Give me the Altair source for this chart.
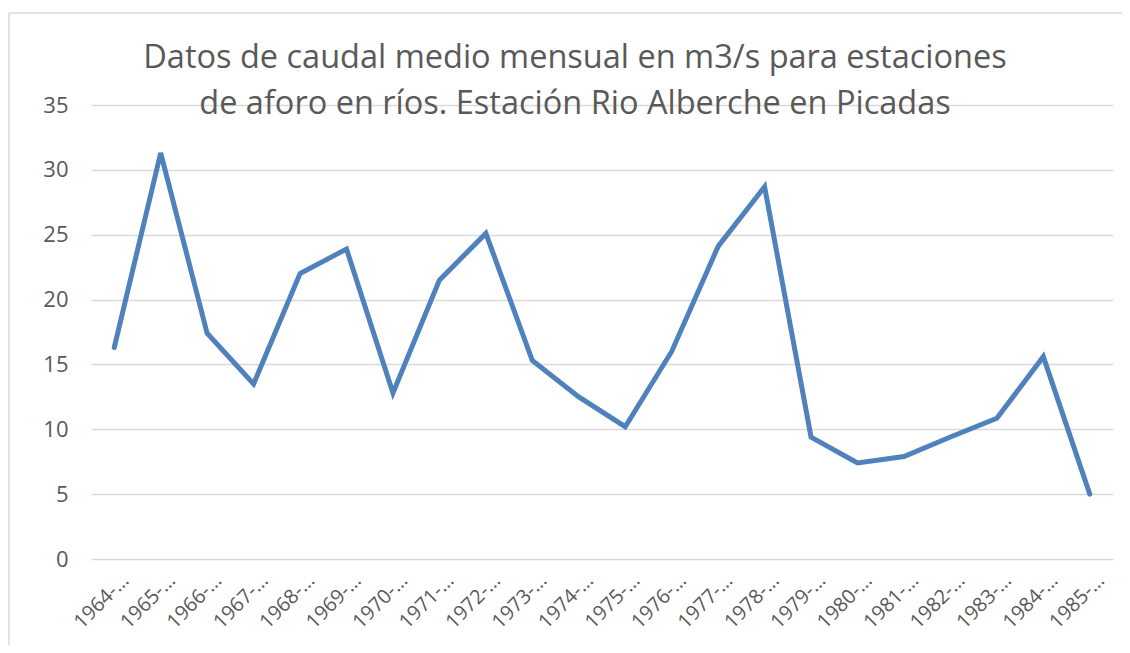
import altair as alt
import pandas as pd

years = ["1964-…", "1965-…", "1966-…", "1967-…", "1968-…", "1969-…", "1970-…",
         "1971-…", "1972-…", "1973-…", "1974-…", "1975-…", "1976-…", "1977-…",
         "1978-…", "1979-…", "1980-…", "1981-…", "1982-…", "1983-…", "1984-…",
         "1985-…"]
caudal = [16.3, 31.3, 17.4, 13.5, 22.0, 23.9, 12.8, 21.5, 25.1, 15.3, 12.5,
          10.2, 16.0, 24.1, 28.7, 9.4, 7.4, 7.9, 9.4, 10.85, 15.6, 5.0]
y_ticks = [0, 5, 10, 15, 20, 25, 30, 35]
title_lines = ["Datos de caudal medio mensual en m3/s para estaciones",
               "de aforo en ríos. Estación Rio Alberche en Picadas"]

df = pd.DataFrame({"anio": years, "caudal": caudal})

FONT = "Open Sans"
GREY = "#595959"

one = pd.DataFrame({"k": [0]})

border_left = alt.Chart(one).mark_rule(stroke="#d9d9d9", strokeWidth=1.5).encode(
    x=alt.value(-82), y=alt.value(-92), y2=alt.value(560)
)
border_top = alt.Chart(one).mark_rule(stroke="#d9d9d9", strokeWidth=1.5).encode(
    x=alt.value(-82), x2=alt.value(1031), y=alt.value(-92)
)

line = alt.Chart(df).mark_line(color="#4F81BD", strokeWidth=5, strokeCap="round").encode(
    x=alt.X("anio:N", sort=years, title=None,
            axis=alt.Axis(labelAngle=-45, labelAlign="center", labelBaseline="middle",
                          labelPadding=42, labelOffset=-13, grid=False)),
    y=alt.Y("caudal:Q", title=None,
            scale=alt.Scale(domain=[0, 35], nice=False),
            axis=alt.Axis(values=y_ticks, labelPadding=23)),
)

chart = alt.layer(border_left, border_top, line).properties(
    width=1022, height=454,
    autosize=alt.AutoSizeParams(type="none"),
    padding={"left": 83, "top": 97, "right": 9, "bottom": 86},
    title=alt.TitleParams(title_lines, anchor="middle", fontSize=32.5, font=FONT,
                          color=GREY, fontWeight="normal", lineHeight=46,
                          offset=-108, dx=-27),
).configure_view(stroke=None).configure_axis(
    labelFont=FONT, labelColor=GREY, ticks=False, domain=False,
    gridColor="#d9d9d9", gridWidth=1.5
).configure_axisX(labelFontSize=20).configure_axisY(labelFontSize=22)

chart.save("out.html", embed_options={"renderer": "svg", "actions": False})
